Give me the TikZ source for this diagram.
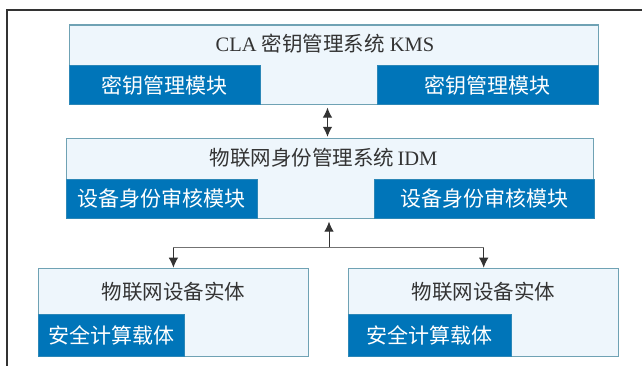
\documentclass[tikz,border=0pt]{standalone}
\usepackage{fontspec}
\setmainfont{Liberation Serif}
\newfontfamily\cjk{Noto Sans CJK SC}
\usepackage{tikz}
\usetikzlibrary{arrows.meta}
\definecolor{boxfill}{HTML}{EEF6FC}
\definecolor{boxline}{HTML}{6FA2B4}
\definecolor{modfill}{HTML}{0075B9}
\definecolor{txtgray}{HTML}{333333}
\tikzset{x=1pt, y=-1pt, >={Latex[length=10pt,width=9.5pt]}}
\tikzstyle{sysbox}=[rectangle,draw=boxline,fill=boxfill,line width=1.1pt,anchor=north west,inner sep=0pt]
\tikzstyle{modbox}=[rectangle,draw=boxline!40!modfill,fill=modfill,line width=0.8pt,inner sep=0pt,text=white,font=\cjk\fontsize{21}{21}\selectfont]
\tikzstyle{title}=[text=txtgray,inner sep=0pt,font=\fontsize{20.5}{20.5}\selectfont]
\tikzstyle{link}=[draw=txtgray,line width=1pt]

\begin{document}
\begin{tikzpicture}
	\useasboundingbox (0,0) rectangle (642,366);
	\draw[line width=1.5pt,draw=black!80] (7,366) -- (7,10) -- (642,10);
	% KMS
	\node[sysbox,minimum width=528.5,minimum height=79.5] (kms) at (69,24.5) {};
	\node[title] (kmst) at (325,43.5) {CLA {\cjk 密钥管理系统} KMS};
	\node[modbox,anchor=south west,minimum width=190.5,minimum height=39] (kms1) at (kms.south west) {密钥管理模块};
	\node[modbox,anchor=south east,minimum width=220.5,minimum height=39] (kms2) at (kms.south east) {密钥管理模块};
	% IDM
	\node[sysbox,minimum width=527.5,minimum height=79.2] (idm) at (65.7,138.3) {};
	\node[title] (idmt) at (323.5,158) {{\cjk 物联网身份管理系统}\,IDM};
	\node[modbox,anchor=south west,minimum width=191,minimum height=39.2] (idm1) at (idm.south west) {设备身份审核模块};
	\node[modbox,anchor=south east,minimum width=219.3,minimum height=39.2] (idm2) at (idm.south east) {设备身份审核模块};
	% devices
	\node[sysbox,minimum width=270.3,minimum height=88.3] (dev1) at (37.7,267.7) {};
	\node[title] (dev1t) at (dev1.north |- 0,291.5) {\cjk 物联网设备实体};
	\node[modbox,anchor=south west,minimum width=146.6,minimum height=42.7] (dev1m) at (dev1.south west) {安全计算载体};
	\node[sysbox,minimum width=270.3,minimum height=88.3] (dev2) at (348,267.7) {};
	\node[title] (dev2t) at (dev2.north |- 0,291.5) {\cjk 物联网设备实体};
	\node[modbox,anchor=south west,minimum width=162.7,minimum height=42.7] (dev2m) at (dev2.south west) {安全计算载体};
	% links
	\draw[link,<->,shorten <=2.5pt,shorten >=1.5pt] (327.5,0 |- kms.south) -- (327.5,0 |- idm.north);
	\coordinate (fork) at (329,247.5);
	\draw[link,->,shorten >=3pt] (fork) -- (fork |- idm.south);
	\draw[link,draw=black!55,line width=1.4pt] (dev1.north |- fork) -- (dev2.north |- fork);
	\draw[link,->] (dev1.north |- fork) -- (dev1.north);
	\draw[link,->] (dev2.north |- fork) -- (dev2.north);
\end{tikzpicture}
\end{document}
